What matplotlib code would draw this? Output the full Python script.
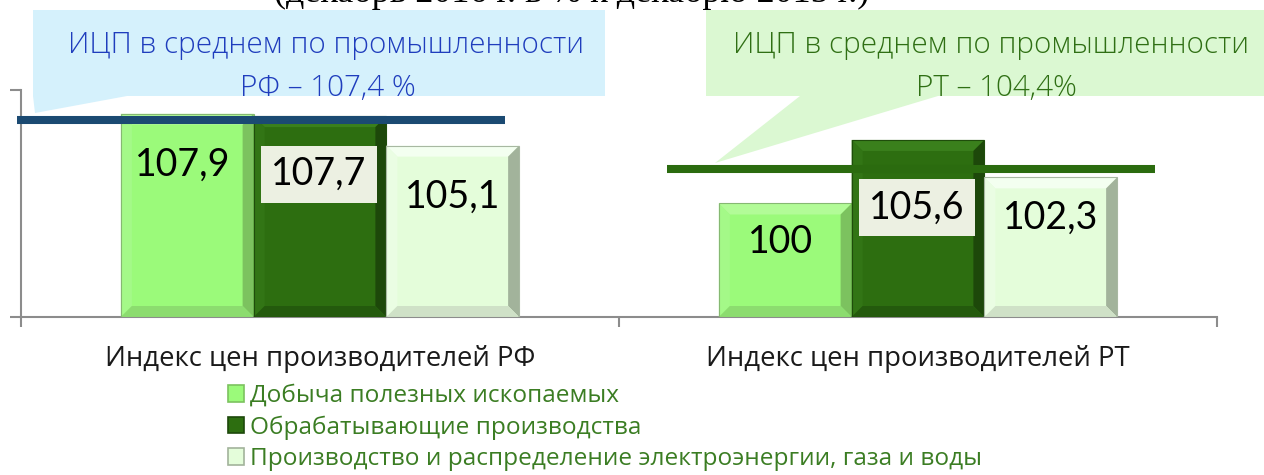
import numpy as np
import matplotlib
matplotlib.use('Agg')
import matplotlib.pyplot as plt
from matplotlib.patches import Polygon, Patch

# ---- data ----
categories = ['Индекс цен производителей РФ', 'Индекс цен производителей РТ']
series_names = ['Добыча полезных ископаемых',
                'Обрабатывающие производства',
                'Производство и распределение электроэнергии, газа и воды']
values_rf = [107.9, 107.7, 105.1]
values_rt = [100.0, 105.6, 102.3]
labels_rf = ['107,9', '107,7', '105,1']
labels_rt = ['100', '105,6', '102,3']
avg_rf = 107.4
avg_rt_line = 103.0   # the RT average line sits lower than 104.4 in the original
callout_rf = ['ИЦП в среднем по промышленности', 'РФ – 107,4 %']
callout_rt = ['ИЦП в среднем по промышленности', 'РТ – 104,4%']
title = '(декабрь 2016 г. в % к декабрю 2015 г.)'

# ---- layout helpers (pixels of the 1264x475 picture) ----
W, H = 1264, 475
def fx(px):
    return px / W
def fy(py):
    return 1 - py / H

fig = plt.figure(figsize=(12.64, 4.75), dpi=100)
ax = fig.add_axes([fx(21), fy(317), fx(1217) - fx(21), fy(90) - fy(317)])
ymin, ymax = 90, 110
ax.set_xlim(-0.5, 1.5)
ax.set_ylim(ymin, ymax)
DX = 2.0 / 1196     # data units per pixel
DY = 20.0 / 227

def X(px):
    return -0.5 + (px - 21) * DX

# colours: face, top, left, right, bottom bevel
styles = [
    ('#9bfa7a', '#b2fb97', '#a4f988', '#7cc25f', '#8cdc6f'),
    ('#2d6e10', '#3a801c', '#327515', '#1d480a', '#245a0d'),
    ('#e4fdda', '#f3fff0', '#eafde3', '#a2b39b', '#cfe1c7'),
]
edge_col = ['#86b872', '#1f4d0b', '#a8b8a2']
label_box = '#ecf0e2'
label_boxed = [False, True, False]
label_drop = [[62, 69, 62], [50, 79, 51]]   # baseline of value label, px under bar top
label_dx = [-5, -1, 0]

bw = 0.222
x = np.arange(len(categories))
table = np.array([values_rf, values_rt])
texts = [labels_rf, labels_rt]
bev = 11

for i in range(3):
    vals = table[:, i]
    face, top, left, right, bottom = styles[i]
    bars = ax.bar(x + (i - 1) * bw, vals - ymin, bottom=ymin, width=bw,
                  color=face, edgecolor='none', zorder=2)
    for j, r in enumerate(bars):
        x0, x1 = r.get_x(), r.get_x() + r.get_width()
        y0, y1 = r.get_y(), r.get_y() + r.get_height()
        bx, by = bev * DX, bev * DY
        quads = [
            ([(x0, y1), (x1, y1), (x1 - bx, y1 - by), (x0 + bx, y1 - by)], top),
            ([(x0, y0), (x0, y1), (x0 + bx, y1 - by), (x0 + bx, y0 + by)], left),
            ([(x1, y0), (x1, y1), (x1 - bx, y1 - by), (x1 - bx, y0 + by)], right),
            ([(x0, y0), (x1, y0), (x1 - bx, y0 + by), (x0 + bx, y0 + by)], bottom),
        ]
        for pts, c in quads:
            ax.add_patch(Polygon(pts, closed=True, facecolor=c,
                                 edgecolor='none', zorder=3))
        ax.add_patch(Polygon([(x0, y0), (x0, y1), (x1, y1), (x1, y0)],
                             closed=True, fill=False, edgecolor=edge_col[i],
                             linewidth=0.8, zorder=3))
        kw = {}
        if label_boxed[i]:
            kw['bbox'] = dict(boxstyle='square,pad=0.28', fc=label_box, ec='none')
        ax.text((x0 + x1) / 2 + label_dx[i] * DX, y1 - label_drop[j][i] * DY,
                texts[j][i], ha='center', va='baseline', fontsize=27,
                family='Lato', color='black', zorder=5, **kw)

# average lines
ax.plot([X(17), X(505)], [avg_rf, avg_rf], color='#1b4a72', lw=5.8,
        solid_capstyle='butt', zorder=4, clip_on=False)
ax.plot([X(667), X(1155)], [avg_rt_line, avg_rt_line], color='#2b6b0f',
        lw=5.8, solid_capstyle='butt', zorder=4)

# axes look
for s in ['top', 'right']:
    ax.spines[s].set_visible(False)
for s in ['left', 'bottom']:
    ax.spines[s].set_color('#8c8c8c')
    ax.spines[s].set_linewidth(1.5)
ax.set_yticks([ymin, ymax])
ax.set_yticklabels([])
ax.set_xticks([-0.5, 0.5, 1.5])
ax.set_xticklabels([])
ax.tick_params(axis='y', length=8, width=1.5, color='#8c8c8c', direction='out')
ax.tick_params(axis='x', length=7, width=1.5, color='#8c8c8c', direction='out')

for k, name in enumerate(categories):
    ax.text(x[k], ymin - 49 * DY, name, ha='center', va='baseline',
            fontsize=19.8, family='Open Sans', color='#1a1a1a', clip_on=False)

# callouts
blue_shape = [(33, 10), (605, 10), (605, 96), (127, 96), (35, 113), (33, 96)]
green_shape = [(706, 10), (1264, 10), (1264, 96), (938, 96), (715, 163),
               (800, 96), (706, 96)]
fig.patches.append(Polygon([(fx(a), fy(b)) for a, b in blue_shape],
                           closed=True, transform=fig.transFigure,
                           facecolor='#d5f1fc', edgecolor='none', zorder=1))
fig.patches.append(Polygon([(fx(a), fy(b)) for a, b in green_shape],
                           closed=True, transform=fig.transFigure,
                           facecolor='#dbf8d2', edgecolor='none', zorder=1))
cfont = dict(ha='center', va='baseline', fontsize=21.3, family='Open Sans',
             fontweight='light', zorder=6)
fig.text(fx(326), fy(53), callout_rf[0], color='#1f3dbd', **cfont)
fig.text(fx(328), fy(96), callout_rf[1], color='#1f3dbd', **cfont)
fig.text(fx(991), fy(53), callout_rt[0], color='#2f6f14', **cfont)
fig.text(fx(996), fy(96), callout_rt[1], color='#2f6f14', **cfont)

# title, mostly cut off at the top edge as in the original
fig.text(fx(572), fy(2), title, ha='center', va='baseline', fontsize=26,
         family='Liberation Serif', color='black')

# legend
handles = [Patch(facecolor=s[0], edgecolor=s[3], linewidth=1.2) for s in styles]
leg = fig.legend(handles, series_names, loc='upper left',
                 bbox_to_anchor=(fx(228), fy(384)), frameon=False,
                 prop={'family': 'Open Sans', 'size': 17.6},
                 labelcolor='#3b7d23', handlelength=0.66, handleheight=0.66,
                 handletextpad=0.26, labelspacing=0.3, borderpad=0,
                 borderaxespad=0)

fig.savefig('out.png', dpi=100)
